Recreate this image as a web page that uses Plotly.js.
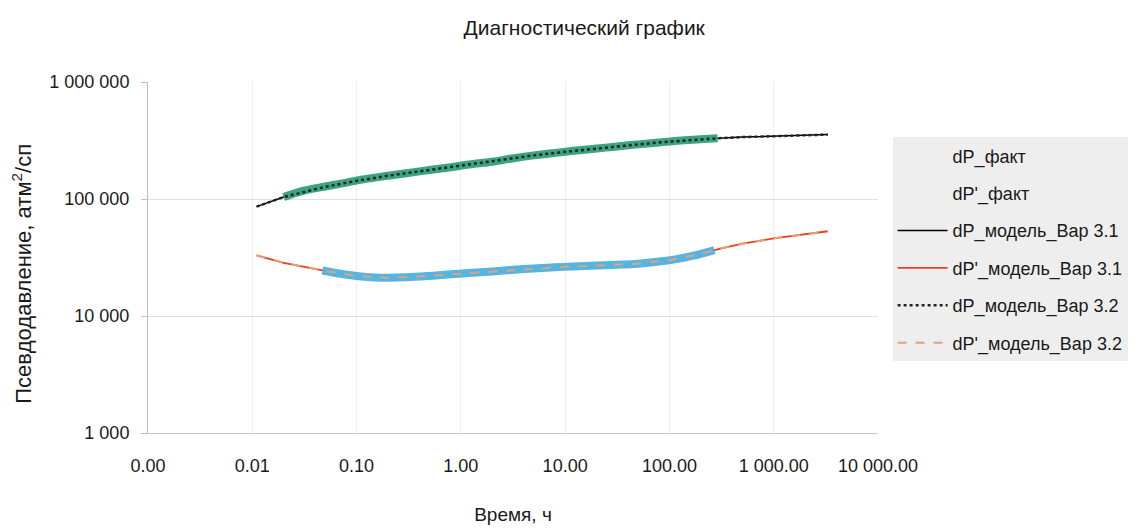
<!DOCTYPE html>
<html>
<head>
<meta charset="utf-8">
<script src="https://cdn.plot.ly/plotly-3.0.1.min.js"></script>
<style>html,body{margin:0;padding:0;background:#fff}#chart{width:1141px;height:528px}</style>
</head>
<body>
<div id="chart"></div>
<script>
// Fact data
const tFactP = [0.02, 0.03, 0.05, 0.08, 0.12, 0.2, 0.3, 0.5, 0.8, 1.2, 2, 3, 5, 8, 12, 20, 30, 50, 80, 120, 200, 290];
const dPFact = [104000, 117000, 128000, 138000, 148000, 158000, 166000, 177000, 187000, 197000, 208000, 221000, 236000, 248000, 258000, 270000, 280000, 293000, 304000, 314000, 324000, 330000];
const tFactD = [0.047, 0.07, 0.1, 0.15, 0.2, 0.3, 0.5, 0.8, 1.2, 2, 3, 5, 8, 12, 20, 30, 50, 80, 120, 170, 230, 270];
const dPdFact = [24500, 23000, 22000, 21300, 21200, 21400, 22000, 22700, 23300, 24000, 24700, 25500, 26100, 26500, 27000, 27400, 28000, 29200, 30800, 32800, 35200, 36500];

// Model data
const tModel = [0.011, 0.02, 0.05, 0.1, 0.2, 0.5, 1, 2, 5, 10, 20, 50, 100, 200, 300, 500, 1000, 2000, 3300];
const dPModel31 = [86000, 104000, 127000, 143000, 158000, 177000, 193000, 208000, 236000, 253000, 270000, 293000, 309000, 324000, 331000, 338000, 345000, 351000, 355000];
const dPdModel31 = [33000, 28500, 24300, 22000, 21200, 22000, 23000, 24000, 25500, 26300, 27000, 28000, 30000, 34000, 37500, 41500, 46000, 50000, 53000];
const dPModel32 = [86000, 104000, 127000, 143000, 158000, 177000, 193000, 208000, 236000, 253000, 270000, 293000, 309000, 324000, 331000, 338000, 345000, 351000, 355000];
const dPdModel32 = [33000, 28500, 24300, 22000, 21200, 22000, 23000, 24000, 25500, 26300, 27000, 28000, 30000, 34000, 37500, 41500, 46000, 50000, 53000];

// Tick labels
const xTickVals = [0.001, 0.01, 0.1, 1, 10, 100, 1000, 10000];
const xTickText = ['0.00', '0.01', '0.10', '1.00', '10.00', '100.00', '1 000.00', '10 000.00'];
const yTickVals = [1000, 10000, 100000, 1000000];
const yTickText = ['1 000', '10 000', '100 000', '1 000 000'];

const names = ['dP_факт', "dP'_факт", 'dP_модель_Вар 3.1', "dP'_модель_Вар 3.1", 'dP_модель_Вар 3.2', "dP'_модель_Вар 3.2"];
const yTitle = 'Псевдодавление, атм<sup>2</sup>/сп';

const FONT = '"Liberation Sans", Arial, sans-serif';
const TXT = '#1a1a1a';

const traces = [
  // model 3.1 lines (under the fact bands)
  {x: tModel, y: dPModel31, mode: 'lines', name: names[2], legendgroup: 'g3', legendrank: 3,
   line: {color: '#000000', width: 1.5}},
  {x: tModel, y: dPdModel31, mode: 'lines', name: names[3], legendgroup: 'g4', legendrank: 4,
   line: {color: '#e8401c', width: 1.8}},
  // fact bands
  {x: tFactP, y: dPFact, mode: 'lines', name: names[0], showlegend: false,
   line: {color: '#3aa57f', width: 8, shape: 'spline'}},
  {x: tFactD, y: dPdFact, mode: 'lines', name: names[1], showlegend: false,
   line: {color: '#55b5e0', width: 8, shape: 'spline'}},
  // model 3.2 dashed (on top)
  {x: tModel, y: dPModel32, mode: 'lines', name: names[4], legendgroup: 'g5', legendrank: 5,
   line: {color: '#222222', width: 2.5, dash: 'dot'}},
  {x: tModel, y: dPdModel32, mode: 'lines', name: names[5], legendgroup: 'g6', legendrank: 6,
   line: {color: '#e0a27a', width: 2, dash: 'dash'}},
  // legend-only entries for the fact series (no symbol shown)
  {x: [null], y: [null], mode: 'lines', name: names[0], legendgroup: 'g1', legendrank: 1,
   line: {color: 'rgba(0,0,0,0)', width: 1}, hoverinfo: 'skip'},
  {x: [null], y: [null], mode: 'lines', name: names[1], legendgroup: 'g2', legendrank: 2,
   line: {color: 'rgba(0,0,0,0)', width: 1}, hoverinfo: 'skip'}
];

const layout = {
  width: 1141, height: 528,
  margin: {l: 148, r: 263, t: 82, b: 95},
  paper_bgcolor: '#ffffff', plot_bgcolor: '#ffffff',
  font: {family: FONT, size: 18, color: TXT},
  title: {text: 'Диагностический график', x: 0.512, xanchor: 'center', y: 0.947, yanchor: 'middle',
          font: {family: FONT, size: 21, color: TXT}},
  xaxis: {
    type: 'log', range: [-3, 4], tickvals: xTickVals, ticktext: xTickText,
    showgrid: true, gridcolor: '#eeeeee', gridwidth: 1,
    showline: true, linecolor: '#c8c8c8', linewidth: 1,
    zeroline: false, ticks: '', ticklen: 0,
    ticklabelstandoff: 16,
    tickfont: {family: FONT, size: 18, color: TXT},
    title: {text: 'Время, ч', standoff: 33, font: {family: FONT, size: 19, color: TXT}}
  },
  yaxis: {
    type: 'log', range: [3, 6], tickvals: yTickVals, ticktext: yTickText,
    showgrid: true, gridcolor: '#e0e0e0', gridwidth: 1,
    showline: true, linecolor: '#bfbfbf', linewidth: 1,
    ticks: 'outside', ticklen: 6, tickcolor: '#bfbfbf',
    ticklabelstandoff: 8,
    zeroline: false,
    tickfont: {family: FONT, size: 18, color: TXT}
  },
  annotations: [{
    text: yTitle, textangle: -90, showarrow: false,
    xref: 'paper', yref: 'paper', x: -0.172, y: 0.455, xanchor: 'center', yanchor: 'middle',
    font: {family: FONT, size: 22, color: TXT}
  }],
  legend: {
    x: 1.02, xanchor: 'left', y: 0.842, yanchor: 'top',
    bgcolor: '#eeeeee', borderwidth: 0,
    traceorder: 'grouped', tracegroupgap: 11,
    font: {family: FONT, size: 18, color: TXT},
    itemwidth: 50
  },
  showlegend: true
};

Plotly.newPlot('chart', traces, layout, {displayModeBar: false, staticPlot: true});
</script>
</body>
</html>
